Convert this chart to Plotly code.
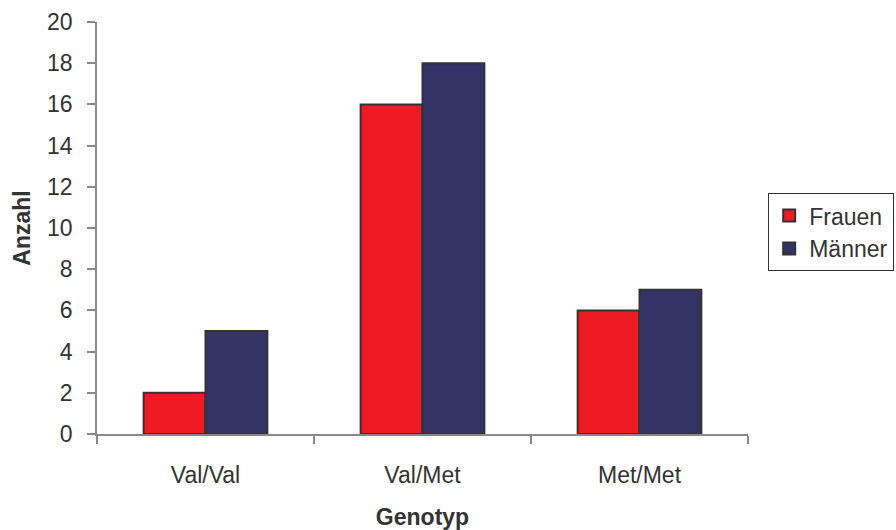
import plotly.graph_objects as go

genotypes = ["Val/Val", "Val/Met", "Met/Met"]
frauen = [2, 16, 6]
maenner = [5, 18, 7]

font_family = "Liberation Sans, Arial, sans-serif"
text_color = "#333333"
axis_color = "#888888"
outline = dict(color="#333333", width=2)

fig = go.Figure()
fig.add_trace(go.Bar(name="Frauen", x=genotypes, y=frauen,
                     marker=dict(color="#ED1C24", line=outline)))
fig.add_trace(go.Bar(name="Männer", x=genotypes, y=maenner,
                     marker=dict(color="#333366", line=outline)))

fig.update_layout(
    width=896, height=530,
    margin=dict(l=97, r=148, t=22, b=96, autoexpand=False),
    paper_bgcolor="white", plot_bgcolor="white",
    barmode="group", bargap=0.43, bargroupgap=0,
    font=dict(family=font_family, size=23, color=text_color),
    legend=dict(
        x=1.031, y=0.49, xanchor="left", yanchor="middle",
        bordercolor="#333333", borderwidth=1,
        font=dict(size=23, color=text_color),
        itemwidth=30, tracegroupgap=0,
    ),
    xaxis=dict(
        showline=True, linecolor=axis_color, linewidth=1.5,
        ticks="outside", tickson="boundaries", ticklen=8,
        tickcolor=axis_color, tickwidth=1.5,
        ticklabelstandoff=20,
        tickfont=dict(size=23, color=text_color),
        showgrid=False,
        title=dict(text="<b>Genotyp</b>", standoff=24,
                   font=dict(size=23, color=text_color)),
    ),
    yaxis=dict(
        range=[0, 20], dtick=2,
        showline=True, linecolor=axis_color, linewidth=1.5,
        ticks="outside", ticklen=8, tickcolor=axis_color, tickwidth=1.5,
        ticklabelstandoff=10,
        tickfont=dict(size=23, color=text_color),
        showgrid=False, zeroline=False,
        title=dict(text="<b>Anzahl</b>", standoff=10,
                   font=dict(size=23, color=text_color)),
    ),
)

fig.write_html("out.html")
